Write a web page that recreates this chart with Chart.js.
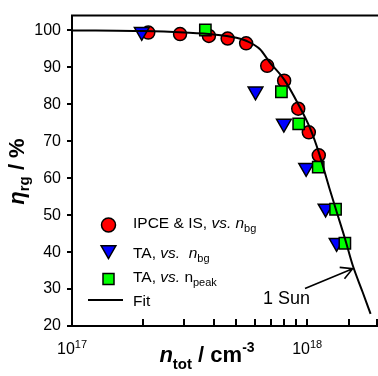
<!DOCTYPE html>
<html>
<head>
<meta charset="utf-8">
<script src="https://cdn.jsdelivr.net/npm/chart.js@4.4.1/dist/chart.umd.min.js"></script>
<style>
  html, body { margin: 0; padding: 0; background: #fff; }
  canvas { display: block; }
</style>
</head>
<body>
<canvas id="chart" width="378" height="376"></canvas>
<script>
// values (n in cm^-3, eta in %)
const ipceN = [2.11e17, 2.88e17, 3.82e17, 4.59e17, 5.5e17, 6.76e17, 7.98e17, 9.16e17, 1.016e18, 1.12e18];
const ipceEta = [99.4, 99.0, 98.5, 97.8, 96.5, 90.4, 86.4, 78.8, 72.4, 66.2];
const taBgN = [1.98e17, 6.03e17, 7.96e17, 9.9e17, 1.197e18, 1.334e18];
const taBgEta = [99.6, 83.5, 74.8, 62.8, 51.8, 42.5];
const taPeakN = [3.69e17, 7.77e17, 9.2e17, 1.114e18, 1.32e18, 1.446e18];
const taPeakEta = [100.1, 83.4, 74.7, 63.0, 51.6, 42.4];
const fitN = [1e17, 2e17, 3e17, 4e17, 5e17, 5.5e17, 6.3e17, 6.9e17, 8e17, 9.2e17, 1.03e18, 1.12e18, 1.24e18, 1.33e18, 1.45e18, 1.56e18, 1.72e18, 1.86e18];
const fitEta = [100, 99.8, 99.4, 98.9, 98.0, 97.2, 94.9, 91.5, 86.6, 79.8, 73.4, 67.0, 57.5, 51.2, 43.5, 36.5, 29.2, 23.3];
const xLabelValues = [1e17, 1e18];
const xLabelExps = ["17", "18"];
const sunPoint = { n: 1.56e18, eta: 35.5 };

const FONT = '"Liberation Sans", Arial, sans-serif';

function pts(xs, ys) {
  return xs.map((v, i) => ({ x: v, y: ys[i] }));
}

// draw a list of text pieces with different fonts / offsets
function drawRuns(ctx, runs, x, y, align) {
  let w = 0;
  for (const r of runs) { ctx.font = r.font; w += ctx.measureText(r.text).width; }
  let cx = align === "center" ? x - w / 2 : x;
  for (const r of runs) {
    ctx.font = r.font;
    ctx.fillText(r.text, cx, y + (r.dy || 0));
    cx += ctx.measureText(r.text).width;
  }
}

function marker(ctx, kind, x, y) {
  ctx.save();
  ctx.lineWidth = 1.5;
  ctx.strokeStyle = "#000";
  ctx.beginPath();
  if (kind === "circle") {
    ctx.fillStyle = "#ff0000";
    ctx.arc(x, y, 7, 0, Math.PI * 2);
  } else if (kind === "tri") {
    const r = 8.5;
    ctx.fillStyle = "#0000ff";
    ctx.moveTo(x, y + r);
    ctx.lineTo(x - r * Math.sin(Math.PI / 3), y - r / 2);
    ctx.lineTo(x + r * Math.sin(Math.PI / 3), y - r / 2);
    ctx.closePath();
  } else {
    ctx.fillStyle = "#00ff00";
    ctx.rect(x - 5.5, y - 5.5, 11, 11);
  }
  ctx.fill();
  ctx.stroke();
  ctx.restore();
}

const overlay = {
  id: "overlay",
  afterDraw(chart) {
    const { ctx, chartArea: a, scales: { x, y } } = chart;
    ctx.save();
    ctx.strokeStyle = "#000";
    ctx.fillStyle = "#000";
    ctx.lineWidth = 2;
    ctx.textBaseline = "alphabetic";

    // top frame line
    ctx.beginPath();
    ctx.moveTo(a.left - 1, a.top);
    ctx.lineTo(a.right, a.top);
    ctx.stroke();

    // x ticks pointing inward
    for (const t of x.ticks) {
      let px = Math.round(x.getPixelForValue(t.value));
      px = Math.min(px, a.right - 1);
      ctx.beginPath();
      ctx.moveTo(px, a.bottom);
      ctx.lineTo(px, a.bottom - 7);
      ctx.stroke();
    }

    // x tick labels 10^17, 10^18
    xLabelValues.forEach((v, i) => {
      drawRuns(ctx, [
        { text: "10", font: "16px " + FONT },
        { text: xLabelExps[i], font: "11px " + FONT, dy: -6 }
      ], x.getPixelForValue(v), 353.5, "center");
    });

    // x title
    drawRuns(ctx, [
      { text: "n", font: "italic bold 22px " + FONT },
      { text: "tot", font: "bold 15px " + FONT, dy: 7 },
      { text: " / cm", font: "bold 22px " + FONT },
      { text: "-3", font: "bold 14px " + FONT, dy: -10 }
    ], 207, 362, "center");

    // y title (rotated)
    ctx.save();
    ctx.translate(23.5, 171.5);
    ctx.rotate(-Math.PI / 2);
    drawRuns(ctx, [
      { text: "\u03B7", font: "italic bold 22px " + FONT },
      { text: "rg", font: "bold 15px " + FONT, dy: 5 },
      { text: " / %", font: "bold 22px " + FONT }
    ], 0, 0, "center");
    ctx.restore();

    // legend
    const lf = "15.5px " + FONT, li = "italic 15.5px " + FONT, ls = "11px " + FONT;
    marker(ctx, "circle", 108.5, 225);
    drawRuns(ctx, [
      { text: "IPCE & IS, ", font: lf }, { text: "vs.", font: li }, { text: " ", font: lf },
      { text: "n", font: li }, { text: "bg", font: ls, dy: 4 }
    ], 133, 228.3, "left");
    marker(ctx, "tri", 108.5, 250);
    drawRuns(ctx, [
      { text: "TA, ", font: lf }, { text: "vs.", font: li }, { text: "  ", font: lf },
      { text: "n", font: li }, { text: "bg", font: ls, dy: 4 }
    ], 133, 258.3, "left");
    marker(ctx, "square", 108.5, 279);
    drawRuns(ctx, [
      { text: "TA, ", font: lf }, { text: "vs.", font: li }, { text: " n", font: lf },
      { text: "peak", font: ls, dy: 4 }
    ], 133, 281.7, "left");
    ctx.beginPath();
    ctx.moveTo(88, 300);
    ctx.lineTo(123, 300);
    ctx.stroke();
    drawRuns(ctx, [{ text: "Fit", font: lf }], 133, 306, "left");

    // "1 Sun" annotation with arrow to the fit line
    drawRuns(ctx, [{ text: "1 Sun", font: "18px " + FONT }], 263, 303.5, "left");
    const tx = x.getPixelForValue(sunPoint.n), ty = y.getPixelForValue(sunPoint.eta);
    const sx = 305, sy = 288.5;
    ctx.lineWidth = 1.6;
    ctx.beginPath();
    ctx.moveTo(sx, sy);
    ctx.lineTo(tx, ty);
    const ang = Math.atan2(ty - sy, tx - sx);
    ctx.moveTo(tx - 13 * Math.cos(ang - 0.5), ty - 13 * Math.sin(ang - 0.5));
    ctx.lineTo(tx, ty);
    ctx.lineTo(tx - 13 * Math.cos(ang + 0.5), ty - 13 * Math.sin(ang + 0.5));
    ctx.stroke();
    ctx.restore();
  }
};

new Chart(document.getElementById("chart"), {
  type: "scatter",
  data: {
    datasets: [
      {
        label: "Fit",
        data: pts(fitN, fitEta),
        showLine: true,
        borderColor: "#000",
        borderWidth: 2,
        pointRadius: 0,
        cubicInterpolationMode: "monotone",
        order: 0
      },
      {
        label: "TA, vs. n_peak",
        data: pts(taPeakN, taPeakEta),
        pointStyle: "rect",
        pointRadius: 8,
        backgroundColor: "#00ff00",
        borderColor: "#000",
        borderWidth: 1.5,
        order: 1
      },
      {
        label: "TA, vs. n_bg",
        data: pts(taBgN, taBgEta),
        pointStyle: "triangle",
        pointRotation: 180,
        pointRadius: 8.5,
        backgroundColor: "#0000ff",
        borderColor: "#000",
        borderWidth: 1.5,
        order: 2
      },
      {
        label: "IPCE & IS, vs. n_bg",
        data: pts(ipceN, ipceEta),
        pointStyle: "circle",
        pointRadius: 6.5,
        backgroundColor: "#ff0000",
        borderColor: "#000",
        borderWidth: 1.5,
        order: 3
      }
    ]
  },
  options: {
    responsive: false,
    animation: false,
    devicePixelRatio: 1,
    layout: { autoPadding: false, padding: { top: 14, left: 0, right: 0, bottom: 0 } },
    plugins: { legend: { display: false }, tooltip: { enabled: false } },
    scales: {
      x: {
        type: "logarithmic",
        min: 1e17,
        max: 2e18,
        grid: { display: false },
        border: { display: true, color: "#000", width: 2 },
        ticks: { display: false },
        afterFit(s) { s.height = 50; }
      },
      y: {
        min: 20,
        max: 104,
        grid: { display: true, drawOnChartArea: false, drawTicks: true, tickLength: 5, color: "#000", lineWidth: 2 },
        border: { display: true, color: "#000", width: 2 },
        ticks: {
          stepSize: 10,
          includeBounds: false,
          padding: 6,
          color: "#000",
          font: { family: FONT, size: 16 }
        },
        afterFit(s) { s.width = 72; }
      }
    }
  },
  plugins: [overlay]
});
</script>
</body>
</html>
